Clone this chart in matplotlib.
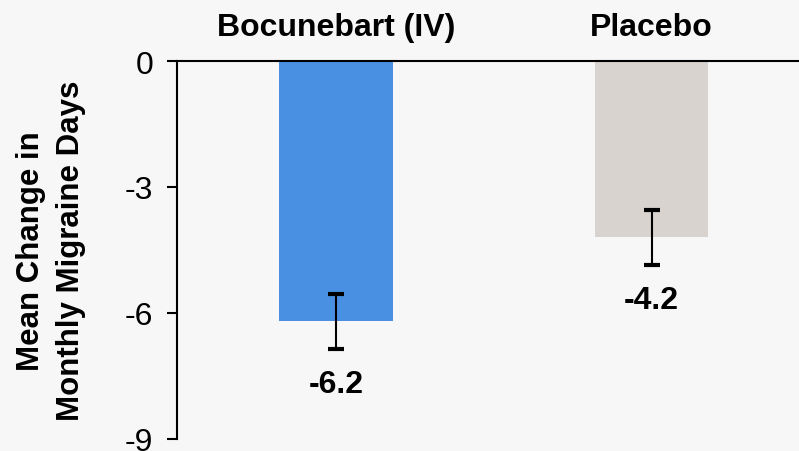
import numpy as np
import matplotlib.pyplot as plt

plt.rcParams['font.family'] = ['Liberation Sans', 'DejaVu Sans']

groups = ["Bocunebart (IV)", "Placebo"]
mean_change = [-6.2, -4.2]
errors = [0.66, 0.66]
colors = ["#4A90E2", "#D8D3CE"]
yticks = [0, -3, -6, -9]

bg = "#F7F7F7"
fig = plt.figure(figsize=(7.99, 4.52), dpi=100, facecolor=bg)
ax = fig.add_axes([177 / 799, 12 / 452, 1 - 177 / 799, 378 / 452])
ax.set_facecolor(bg)

x = np.arange(len(groups))
ax.bar(x, mean_change, width=0.36, color=colors, zorder=2)
ax.errorbar(x, mean_change, yerr=errors, fmt='none', ecolor='black',
            elinewidth=1.5, capsize=5.8, capthick=3, zorder=3)

for xi, v, e in zip(x, mean_change, errors):
    ax.text(xi, v - e - 0.83, f"{v:.1f}", ha='center', va='center',
            fontsize=23, fontweight='bold')
    ax.text(xi, 0.8, groups[xi], ha='center', va='center',
            fontsize=23, fontweight='bold', clip_on=False)

ax.set_xlim(-0.504, 1.4675)
ax.set_ylim(-9, 0)
ax.set_yticks(yticks)
ax.set_yticklabels([str(t) for t in yticks], fontsize=23)
ax.set_xticks([])
ax.tick_params(axis='y', length=7, width=1.5, pad=10)

for side in ['right', 'bottom']:
    ax.spines[side].set_visible(False)
ax.spines['left'].set_linewidth(1.5)
ax.spines['top'].set_linewidth(1.5)

fig.text(51 / 799, 201 / 452, "Mean Change in\nMonthly Migraine Days",
         rotation=90, ha='center', va='center', fontsize=22.5,
         fontweight='bold', linespacing=1.4)

fig.savefig("out.png", dpi=100, facecolor=bg)
